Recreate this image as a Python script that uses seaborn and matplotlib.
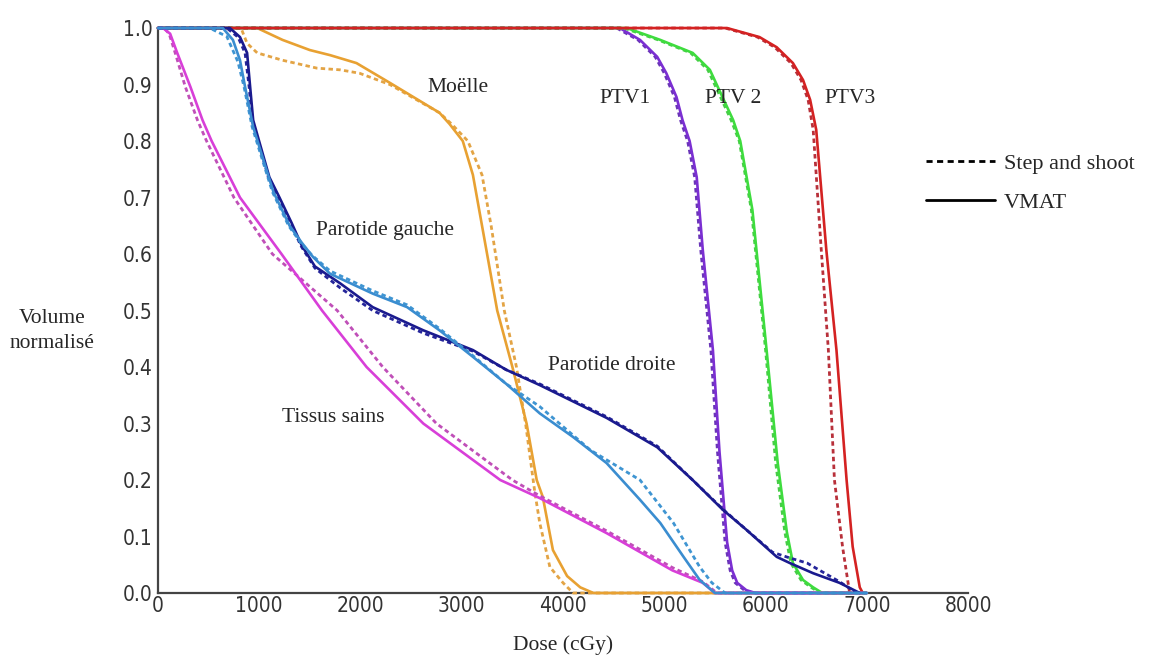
import pandas as pd
import numpy as np
import seaborn as sns
import matplotlib.pyplot as plt
from matplotlib.lines import Line2D

sns.set_theme(style="white")
plt.rcParams['font.family'] = ['Liberation Serif', 'DejaVu Serif']

# ---- data (dose in cGy, normalised volume) ----
tissus_dose_vmat = [0, 50, 120, 190, 320, 440, 530, 810, 1220, 1620, 2060, 2620, 3380, 3770, 4430, 5080, 5380, 5500, 7000]
tissus_vol_vmat = [1.0, 1.0, 0.99, 0.956, 0.896, 0.837, 0.8, 0.7, 0.6, 0.5, 0.4, 0.3, 0.2, 0.168, 0.106, 0.04, 0.018, 0.0, 0.0]
tissus_dose_ss = [0, 60, 110, 170, 270, 390, 480, 750, 1130, 1770, 2220, 2750, 3500, 3770, 4430, 5080, 5380, 5520, 7000]
tissus_vol_ss = [1.0, 1.0, 0.99, 0.956, 0.896, 0.837, 0.8, 0.7, 0.6, 0.5, 0.4, 0.3, 0.2, 0.172, 0.11, 0.045, 0.02, 0.0, 0.0]

moelle_dose_vmat = [0, 980, 1230, 1500, 1700, 1960, 2290, 2780, 2880, 3010, 3110, 3200, 3350, 3500, 3640, 3740, 3800, 3900, 4040, 4170, 4300, 7000]
moelle_vol_vmat = [1.0, 1.0, 0.979, 0.961, 0.952, 0.938, 0.903, 0.85, 0.83, 0.8, 0.74, 0.65, 0.5, 0.4, 0.3, 0.2, 0.17, 0.076, 0.03, 0.01, 0.0, 0.0]
moelle_dose_ss = [0, 820, 880, 980, 1230, 1570, 1800, 1990, 2290, 2780, 2900, 3060, 3200, 3290, 3420, 3540, 3630, 3720, 3770, 3870, 4000, 4100, 7000]
moelle_vol_ss = [1.0, 1.0, 0.973, 0.956, 0.943, 0.929, 0.926, 0.92, 0.9, 0.85, 0.83, 0.8, 0.74, 0.65, 0.5, 0.4, 0.3, 0.18, 0.124, 0.046, 0.018, 0.0, 0.0]

pg_dose_vmat = [0, 640, 740, 810, 860, 940, 1070, 1140, 1300, 1420, 1530, 1700, 2120, 2460, 2780, 3110, 3440, 3770, 4100, 4430, 4760, 4960, 5190, 5350, 5500, 7000]
pg_vol_vmat = [1.0, 1.0, 0.979, 0.943, 0.896, 0.825, 0.75, 0.71, 0.65, 0.62, 0.595, 0.565, 0.53, 0.506, 0.465, 0.418, 0.37, 0.318, 0.276, 0.23, 0.165, 0.124, 0.064, 0.023, 0.0, 0.0]
pg_dose_ss = [0, 510, 680, 790, 850, 930, 1060, 1130, 1290, 1410, 1520, 1700, 2120, 2460, 2780, 3110, 3440, 3770, 4270, 4760, 5090, 5350, 5470, 5600, 7000]
pg_vol_ss = [1.0, 1.0, 0.985, 0.94, 0.896, 0.825, 0.75, 0.71, 0.65, 0.62, 0.598, 0.57, 0.535, 0.51, 0.468, 0.42, 0.37, 0.33, 0.253, 0.2, 0.124, 0.046, 0.018, 0.0, 0.0]

pd_dose_vmat = [0, 710, 810, 880, 910, 940, 1100, 1200, 1320, 1420, 1550, 1800, 2120, 2620, 3110, 3440, 3770, 4430, 4930, 5280, 5580, 5810, 6110, 6240, 6470, 6730, 6930]
pd_vol_vmat = [1.0, 1.0, 0.984, 0.956, 0.896, 0.837, 0.736, 0.7, 0.655, 0.615, 0.578, 0.548, 0.506, 0.465, 0.43, 0.395, 0.368, 0.31, 0.258, 0.2, 0.147, 0.112, 0.064, 0.053, 0.035, 0.018, 0.0]
pd_dose_ss = [0, 680, 790, 860, 900, 930, 1090, 1190, 1310, 1410, 1550, 1800, 2120, 2620, 3110, 3440, 3770, 4430, 4930, 5280, 5580, 5810, 6070, 6240, 6410, 6730, 6900]
pd_vol_ss = [1.0, 1.0, 0.984, 0.956, 0.896, 0.837, 0.736, 0.7, 0.655, 0.615, 0.575, 0.54, 0.5, 0.46, 0.428, 0.395, 0.37, 0.312, 0.26, 0.2, 0.148, 0.112, 0.072, 0.062, 0.053, 0.02, 0.0]

ptv1_dose_vmat = [0, 4560, 4760, 4930, 5020, 5120, 5180, 5250, 5320, 5380, 5480, 5545, 5620, 5670, 5720, 5810, 5900, 7000]
ptv1_vol_vmat = [1.0, 1.0, 0.979, 0.949, 0.92, 0.878, 0.837, 0.8, 0.736, 0.607, 0.43, 0.25, 0.09, 0.04, 0.018, 0.005, 0.0, 0.0]
ptv1_dose_ss = [0, 4530, 4740, 4910, 5000, 5100, 5160, 5230, 5300, 5360, 5460, 5525, 5600, 5650, 5700, 5790, 5880, 7000]
ptv1_vol_ss = [1.0, 1.0, 0.979, 0.949, 0.92, 0.878, 0.837, 0.8, 0.736, 0.607, 0.43, 0.25, 0.09, 0.04, 0.018, 0.005, 0.0, 0.0]

ptv2_dose_vmat = [0, 4630, 4960, 5280, 5450, 5680, 5750, 5870, 5910, 6010, 6120, 6210, 6270, 6370, 6470, 6560, 7000]
ptv2_vol_vmat = [1.0, 1.0, 0.979, 0.956, 0.926, 0.837, 0.8, 0.678, 0.607, 0.43, 0.23, 0.108, 0.053, 0.023, 0.01, 0.0, 0.0]
ptv2_dose_ss = [0, 4600, 4940, 5260, 5430, 5660, 5740, 5860, 5900, 6000, 6100, 6190, 6250, 6350, 6450, 6540, 7000]
ptv2_vol_ss = [1.0, 1.0, 0.979, 0.956, 0.926, 0.837, 0.8, 0.678, 0.607, 0.43, 0.23, 0.108, 0.053, 0.023, 0.01, 0.0, 0.0]

ptv3_dose_vmat = [0, 5620, 5940, 6110, 6270, 6370, 6440, 6500, 6600, 6700, 6800, 6860, 6930, 6960]
ptv3_vol_vmat = [1.0, 1.0, 0.984, 0.966, 0.938, 0.908, 0.873, 0.82, 0.607, 0.43, 0.2, 0.082, 0.01, 0.0]
ptv3_dose_ss = [0, 5600, 5920, 6090, 6250, 6350, 6420, 6470, 6550, 6620, 6680, 6760, 6830]
ptv3_vol_ss = [1.0, 1.0, 0.984, 0.966, 0.938, 0.908, 0.873, 0.82, 0.607, 0.43, 0.2, 0.082, 0.0]

x_ticks = [0, 1000, 2000, 3000, 4000, 5000, 6000, 7000, 8000]
y_ticks = [0.0, 0.1, 0.2, 0.3, 0.4, 0.5, 0.6, 0.7, 0.8, 0.9, 1.0]

# draw order matters: later curves sit on top along the 1.0 plateau
curves = [
    ("Moëlle", "#E8A132", "#E3A445", moelle_dose_vmat, moelle_vol_vmat, moelle_dose_ss, moelle_vol_ss),
    ("PTV1", "#7B2FD2", "#6A35B8", ptv1_dose_vmat, ptv1_vol_vmat, ptv1_dose_ss, ptv1_vol_ss),
    ("PTV2", "#3EDC3E", "#48CC48", ptv2_dose_vmat, ptv2_vol_vmat, ptv2_dose_ss, ptv2_vol_ss),
    ("PTV3", "#D42222", "#B8303A", ptv3_dose_vmat, ptv3_vol_vmat, ptv3_dose_ss, ptv3_vol_ss),
    ("Tissus sains", "#D83FD8", "#C04FB8", tissus_dose_vmat, tissus_vol_vmat, tissus_dose_ss, tissus_vol_ss),
    ("Parotide droite", "#1A1A8E", "#25259A", pd_dose_vmat, pd_vol_vmat, pd_dose_ss, pd_vol_ss),
    ("Parotide gauche", "#3A8DD0", "#3F95D2", pg_dose_vmat, pg_vol_vmat, pg_dose_ss, pg_vol_ss),
]

fig = plt.figure(figsize=(11.59, 6.66), dpi=100)
ax = fig.add_axes([0.1363, 0.1096, 0.6990, 0.8483])

for name, col, col_ss, dv, vv, ds, vs in curves:
    sns.lineplot(x=ds, y=vs, ax=ax, color=col_ss, lw=2.0, linestyle=(0, (1.6, 1.2)),
                 sort=False, estimator=None, zorder=3, clip_on=False)
    sns.lineplot(x=dv, y=vv, ax=ax, color=col, lw=1.9, sort=False, estimator=None,
                 zorder=3, clip_on=False)

ax.set_xlim(0, 8000)
ax.set_ylim(0, 1.0)
ax.set_xticks(x_ticks)
ax.set_yticks(y_ticks)
ax.set_yticklabels([f"{v:.1f}" for v in y_ticks])
for lab in ax.get_xticklabels() + ax.get_yticklabels():
    lab.set_fontfamily(['DejaVu Sans'])
    lab.set_fontstretch('condensed')
    lab.set_fontsize(15)
    lab.set_color('#333333')
ax.tick_params(axis='x', length=0, pad=2)
ax.tick_params(axis='y', length=0, pad=4)
sns.despine(ax=ax)
for s in ['left', 'bottom']:
    ax.spines[s].set_color('#444444')
    ax.spines[s].set_linewidth(1.6)

ax.set_xlabel("Dose (cGy)", fontsize=15.5, labelpad=14)
ax.set_ylabel("")
fig.text(0.045, 0.503, "Volume\nnormalisé", fontsize=15.5, ha='center', va='center',
         linespacing=1.45)

# structure labels
lab_kw = dict(fontsize=15.5, ha='center', va='center')
ax.text(2960, 0.894, "Moëlle", **lab_kw)
ax.text(4610, 0.876, "PTV1", **lab_kw)
ax.text(5680, 0.876, "PTV 2", **lab_kw)
ax.text(6830, 0.876, "PTV3", **lab_kw)
ax.text(2240, 0.642, "Parotide gauche", **lab_kw)
ax.text(4480, 0.403, "Parotide droite", **lab_kw)
ax.text(1730, 0.311, "Tissus sains", **lab_kw)

handles = [Line2D([], [], color='black', lw=2, linestyle=(0, (2.2, 1.6))),
           Line2D([], [], color='black', lw=2)]
fig.legend(handles, ["Step and shoot", "VMAT"], loc='upper left',
           bbox_to_anchor=(0.782, 0.80), frameon=False, fontsize=16,
           handlelength=3.1, handletextpad=0.4, labelspacing=0.85)

fig.savefig("out.png", dpi=100)
